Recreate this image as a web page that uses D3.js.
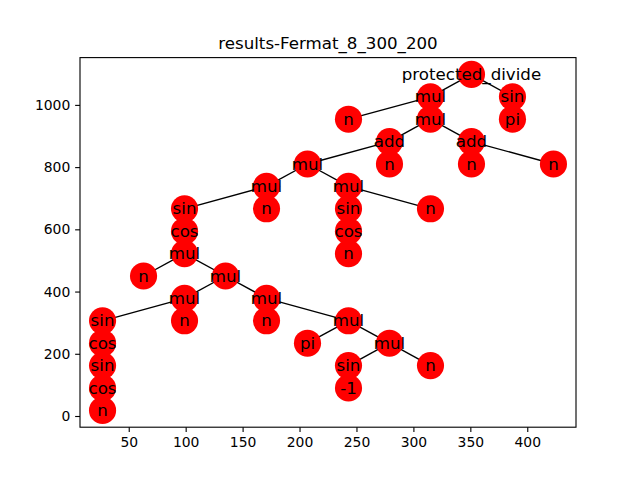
<!DOCTYPE html>
<html><head><meta charset="utf-8">
<script src="https://cdn.jsdelivr.net/npm/d3@7"></script>
<style>body{margin:0;background:#fff}svg{display:block}text{font-family:"DejaVu Sans",sans-serif}</style>
</head><body><svg id="c" width="640" height="480"></svg>
<script>
const nodeLabels = ["protected_divide","mul","sin","pi","n","mul","add","add","mul","n","n","n","mul","mul","sin","n","sin","n","cos","n","cos","mul","n","mul","mul","mul","sin","n","n","mul","cos","sin","cos","n","pi","mul","sin","n","-1"];
const nodeX = [351,315,387,387,243,315,279,351,207,279,351,423,171,243,99,171,243,315,243,243,99,99,63,135,99,171,27,99,171,243,27,27,27,27,207,279,243,315,243];
const nodeY = [1098,1026,1026,954,954,954,882,882,810,810,810,810,738,738,666,666,666,666,594,522,594,522,450,450,378,378,306,306,306,306,234,162,90,18,234,234,162,162,90];
const edgeList = [[0,1],[0,2],[2,3],[1,4],[1,5],[5,6],[5,7],[6,8],[6,9],[7,10],[7,11],[8,12],[8,13],[12,14],[12,15],[13,16],[13,17],[16,18],[18,19],[14,20],[20,21],[21,22],[21,23],[23,24],[23,25],[24,26],[24,27],[26,30],[30,31],[31,32],[32,33],[25,28],[25,29],[29,34],[29,35],[35,36],[35,37],[36,38]];
const xTicks = [50,100,150,200,250,300,350,400];
const yTicks = [0,200,400,600,800,1000];
const title = "results-Fermat_8_300_200";

const svg = d3.select("#c");
const L=80,R=576,T=57.6,B=427.2;
const pad=(e)=>{const d=e[1]-e[0];return [e[0]-0.05*d,e[1]+0.05*d];};
const x = d3.scaleLinear().domain(pad(d3.extent(nodeX))).range([L,R]);
const y = d3.scaleLinear().domain(pad(d3.extent(nodeY))).range([B,T]);

const g = svg.append("g");
// edges
g.selectAll("line.e").data(edgeList).join("line")
  .attr("x1",d=>x(nodeX[d[0]])).attr("y1",d=>y(nodeY[d[0]]))
  .attr("x2",d=>x(nodeX[d[1]])).attr("y2",d=>y(nodeY[d[1]]))
  .attr("stroke","#000").attr("stroke-width",1.39);
// nodes
const r = Math.sqrt(300/Math.PI)*100/72;
g.selectAll("circle").data(nodeLabels).join("circle")
  .attr("cx",(d,i)=>x(nodeX[i])).attr("cy",(d,i)=>y(nodeY[i])).attr("r",r)
  .attr("fill","#ff0000");
g.selectAll("text.l").data(nodeLabels).join("text")
  .attr("x",(d,i)=>x(nodeX[i])).attr("y",(d,i)=>y(nodeY[i]))
  .attr("text-anchor","middle").attr("dominant-baseline","central")
  .attr("font-size","16.67px").attr("fill","#000").text(d=>d);

// axes
const tl = 3.5*100/72;
const xa = svg.append("g").attr("transform",`translate(0,${B})`)
  .call(d3.axisBottom(x).tickValues(xTicks).tickSize(tl).tickPadding(4.86).tickFormat(d3.format("d")));
const ya = svg.append("g").attr("transform",`translate(${L},0)`)
  .call(d3.axisLeft(y).tickValues(yTicks).tickSize(tl).tickPadding(4.86).tickFormat(d3.format("d")));
[xa,ya].forEach(a=>{a.select(".domain").remove();
  a.selectAll(".tick line").attr("stroke","#000").attr("stroke-width",1.11);
  a.selectAll(".tick text").attr("font-size","13.9px").attr("fill","#000").attr("font-family","DejaVu Sans");});
svg.append("rect").attr("x",L).attr("y",T).attr("width",R-L).attr("height",B-T)
  .attr("fill","none").attr("stroke","#000").attr("stroke-width",1.11);
svg.append("text").attr("x",(L+R)/2).attr("y",T-8.3).attr("text-anchor","middle")
  .attr("font-size","16.67px").attr("fill","#000").text(title);
</script></body></html>
